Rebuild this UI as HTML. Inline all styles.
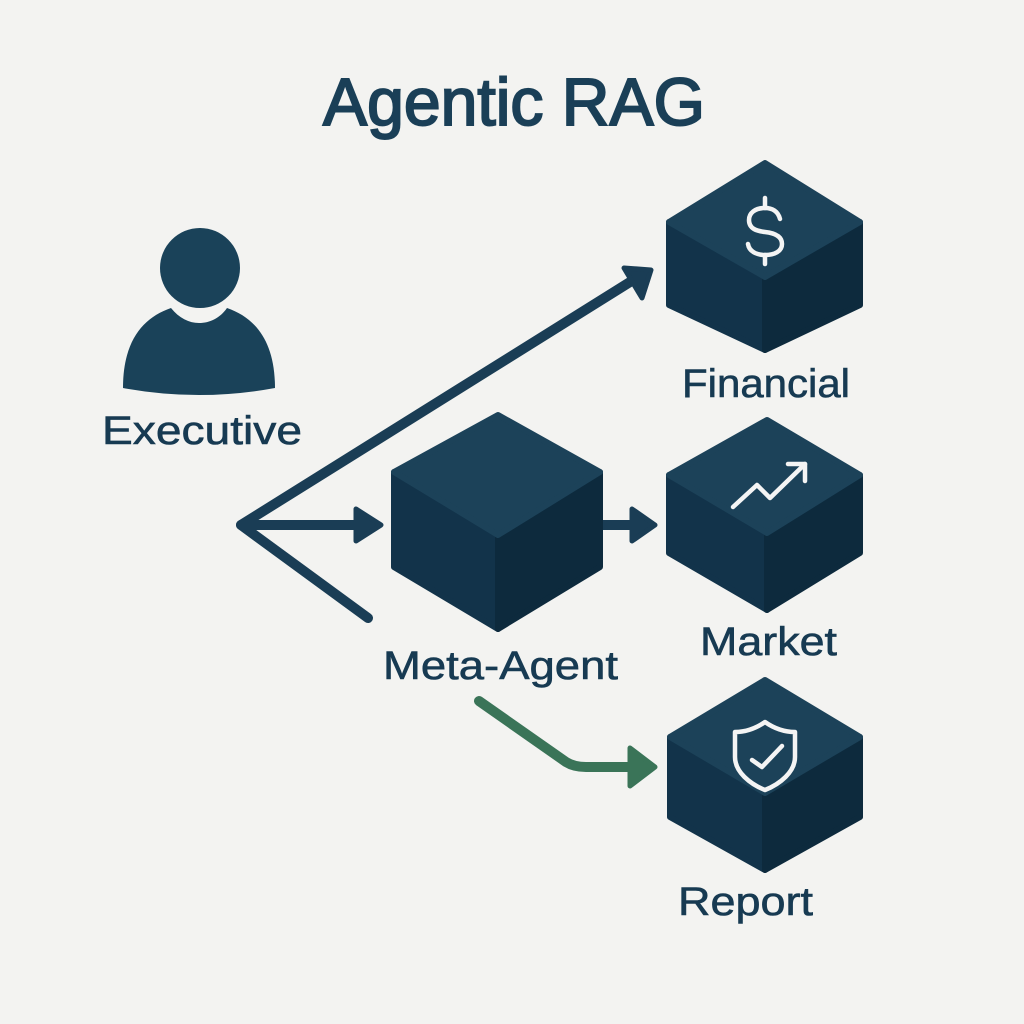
<!DOCTYPE html>
<html>
<head>
<meta charset="utf-8">
<style>
  html,body{margin:0;padding:0;background:#f3f3f1;}
  svg{display:block;}
  .lbl{font-family:"Liberation Sans",sans-serif;font-size:40px;fill:#173a52;stroke:#173a52;stroke-width:0.6px;}
</style>
</head>
<body>
<svg width="1024" height="1024" viewBox="0 0 1024 1024" xmlns="http://www.w3.org/2000/svg">
  <rect width="1024" height="1024" fill="#f3f3f1"/>

  <!-- Title -->
  <text x="323" y="125" font-family="Liberation Sans, sans-serif" font-size="67" fill="#1a3f57" stroke="#1a3f57" stroke-width="2" textLength="382" lengthAdjust="spacingAndGlyphs">Agentic RAG</text>

  <!-- Person -->
  <circle cx="200" cy="268" r="40" fill="#1a4259"/>
  <path d="M123,388 C123,342 142,318 171,308 C179,318 189,323 199,323 C210,323 220,318 227,308 C256,318 275,342 275,388 Q199,402 123,388 Z" fill="#1a4259"/>
  <text class="lbl" x="102" y="444" textLength="200" lengthAdjust="spacingAndGlyphs">Executive</text>

  <!-- Connectors -->
  <g stroke="#1a3d55" stroke-width="10" fill="none" stroke-linecap="round" stroke-linejoin="round">
    <polyline points="368,618 241,525 630,282"/>
    <line x1="241" y1="525" x2="360" y2="525"/>
    <line x1="603" y1="525" x2="634" y2="525"/>
  </g>
  <g fill="#1a3d55" stroke="#1a3d55" stroke-width="5" stroke-linejoin="round">
    <polygon points="651,270 624,268 642,298"/>
    <polygon points="381,525 356,509 356,541"/>
    <polygon points="655,525 632,509 632,541"/>
  </g>

  <!-- Green connector -->
  <path d="M479,701 L566,762 Q574,767 586,767 L632,767" stroke="#3a7458" stroke-width="10" fill="none" stroke-linecap="round" stroke-linejoin="round"/>
  <polygon points="655,767 630,748 630,786" fill="#3a7458" stroke="#3a7458" stroke-width="5" stroke-linejoin="round"/>

  <!-- Cubes -->
  <g stroke-width="6" stroke-linejoin="round">
    <!-- Financial -->
    <polygon points="669,222 765,277 765,350 669,305" fill="#12334a" stroke="#12334a"/>
    <polygon points="765,277 860,222 860,305 765,350" fill="#0d2a3d" stroke="#0d2a3d"/>
    <polygon points="765,163 860,222 765,277 669,222" fill="#1c4259" stroke="#1c4259"/>

    <!-- Meta-Agent -->
    <polygon points="394,472 498,535 498,629 394,567" fill="#12334a" stroke="#12334a"/>
    <polygon points="498,535 600,472 600,567 498,629" fill="#0d2a3d" stroke="#0d2a3d"/>
    <polygon points="498,415 600,472 498,535 394,472" fill="#1c4259" stroke="#1c4259"/>

    <!-- Market -->
    <polygon points="669,475 767,533 767,610 669,553" fill="#12334a" stroke="#12334a"/>
    <polygon points="767,533 860,475 860,553 767,610" fill="#0d2a3d" stroke="#0d2a3d"/>
    <polygon points="767,420 860,475 767,533 669,475" fill="#1c4259" stroke="#1c4259"/>

    <!-- Report -->
    <polygon points="670,737 765,793 765,870 670,817" fill="#12334a" stroke="#12334a"/>
    <polygon points="765,793 860,737 860,817 765,870" fill="#0d2a3d" stroke="#0d2a3d"/>
    <polygon points="765,680 860,737 765,793 670,737" fill="#1c4259" stroke="#1c4259"/>
  </g>

  <!-- Icons -->
  <g stroke="#f4f4f4" stroke-width="4.5" fill="none" stroke-linecap="round" stroke-linejoin="round">
    <!-- dollar -->
    <path d="M780,219 C778,211 772,208 765,208 C755,208 749,213 749,220 C749,229 757,231 765,232 C774,233 782,236 782,244 C782,251 775,255 765,255 C756,255 749,251 748,244"/>
    <line x1="765" y1="198" x2="765" y2="208"/>
    <line x1="765" y1="255" x2="765" y2="264"/>
    <!-- trend -->
    <polyline points="733,507 757,485 770,498 805,464"/>
    <polyline points="788,464 805,464 805,481"/>
    <!-- shield -->
    <path d="M765,722 C755,729 745,732 735,732 V757 C735,772 750,784 765,790 C780,784 795,772 795,757 V732 C785,732 775,729 765,722 Z"/>
    <polyline points="752,760 762,767 782,746"/>
  </g>

  <!-- Labels -->
  <text class="lbl" x="682" y="397" textLength="168" lengthAdjust="spacingAndGlyphs">Financial</text>
  <text class="lbl" x="383" y="679" textLength="235" lengthAdjust="spacingAndGlyphs">Meta-Agent</text>
  <text class="lbl" x="700" y="655" textLength="137" lengthAdjust="spacingAndGlyphs">Market</text>
  <text class="lbl" x="678" y="915" textLength="135" lengthAdjust="spacingAndGlyphs">Report</text>
</svg>
</body>
</html>
